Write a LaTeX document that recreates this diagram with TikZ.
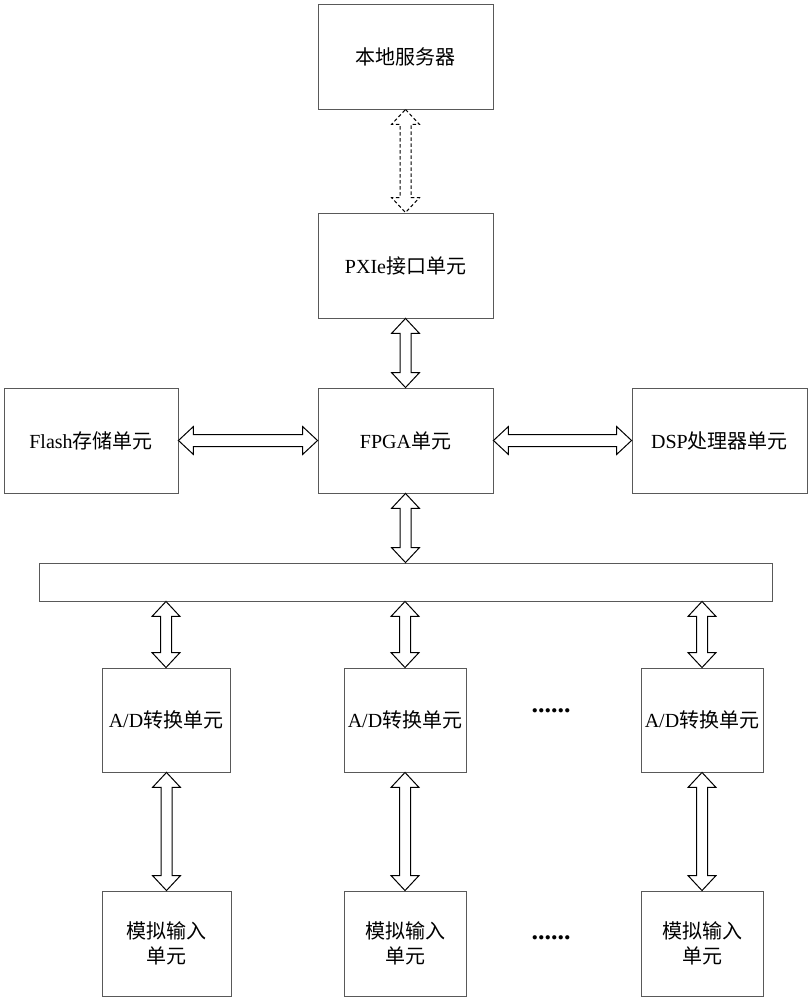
\documentclass[tikz,border=0pt]{standalone}
\usepackage{fontspec}
\setmainfont{Liberation Serif}
\newfontfamily\cjk{Noto Sans CJK SC}
\usetikzlibrary{calc}
\tikzset{
  box/.style={draw=black!65, line width=0.9pt, minimum width=175pt, minimum height=105pt, inner sep=0pt, font=\fontsize{20}{25}\selectfont, align=center},
  arr/.style={draw=black, line width=1pt, fill=white, line join=miter},
  darr/.style={arr, dash pattern=on 3.5pt off 2.5pt},
}
\newcommand{\vdarrow}[3][]{%
  \draw[arr,#1] let \p1=(#2), \p2=(#3) in
   (\x2,\y1) -- (\x2+14pt,\y1-15pt) -- (\x2+5.5pt,\y1-15pt) -- (\x2+5.5pt,\y2+15pt) -- (\x2+14pt,\y2+15pt)
   -- (\x2,\y2) -- (\x2-14pt,\y2+15pt) -- (\x2-5.5pt,\y2+15pt) -- (\x2-5.5pt,\y1-15pt) -- (\x2-14pt,\y1-15pt) -- cycle;}
\newcommand{\hdarrow}[3][]{%
  \draw[arr,#1] let \p1=(#2), \p2=(#3) in
   (\x1,\y1) -- (\x1+15pt,\y1+14pt) -- (\x1+15pt,\y1+6pt) -- (\x2-15pt,\y1+6pt) -- (\x2-15pt,\y1+14pt)
   -- (\x2,\y1) -- (\x2-15pt,\y1-14pt) -- (\x2-15pt,\y1-6pt) -- (\x1+15pt,\y1-6pt) -- (\x1+15pt,\y1-14pt) -- cycle;}
\begin{document}
\begin{tikzpicture}[x=1pt,y=-1pt]
\useasboundingbox (0,0) rectangle (810,1000);
\node[box] (local) at (405.5,56.5) {\cjk 本地服务器};
\node[box] (pxie) at (405.5,265.5) {PXIe{\cjk 接口单元}};
\node[box] (fpga) at (405.5,440.5) {FPGA{\cjk 单元}};
\node[box, minimum width=174pt] (flash) at (91,440.5) {Flash{\cjk 存储单元}};
\node[box] (dsp) at (719.5,440.5) {DSP{\cjk 处理器单元}};
\node[box, minimum width=733pt, minimum height=38pt] (bus) at (405.5,582) {};
\node[box, minimum width=128pt, minimum height=104pt] (ad1) at (166,720) {A/D{\cjk 转换单元}};
\node[box, minimum width=122pt, minimum height=104pt] (ad2) at (405,720) {A/D{\cjk 转换单元}};
\node[box, minimum width=122pt, minimum height=104pt] (ad3) at (702,720) {A/D{\cjk 转换单元}};
\node[box, minimum width=129pt, minimum height=105pt] (ai1) at (166.5,943.5) {\cjk 模拟输入\\\cjk 单元};
\node[box, minimum width=122pt, minimum height=105pt] (ai2) at (405,943.5) {\cjk 模拟输入\\\cjk 单元};
\node[box, minimum width=122pt, minimum height=105pt] (ai3) at (702,943.5) {\cjk 模拟输入\\\cjk 单元};
\node[font=\fontsize{26}{28}\selectfont\bfseries] (dots1) at (551,711) {......};
\node[font=\fontsize{26}{28}\selectfont\bfseries] (dots2) at (551,938) {......};
\vdarrow[darr]{local.south}{pxie.north}
\vdarrow{pxie.south}{fpga.north}
\vdarrow{fpga.south}{bus.north -| fpga.south}
\hdarrow{flash.east}{fpga.west}
\hdarrow{fpga.east}{dsp.west}
\vdarrow{bus.south -| ad1.north}{ad1.north}
\vdarrow{bus.south -| ad2.north}{ad2.north}
\vdarrow{bus.south -| ad3.north}{ad3.north}
\vdarrow{ad1.south}{ai1.north}
\vdarrow{ad2.south}{ai2.north}
\vdarrow{ad3.south}{ai3.north}
\end{tikzpicture}
\end{document}
